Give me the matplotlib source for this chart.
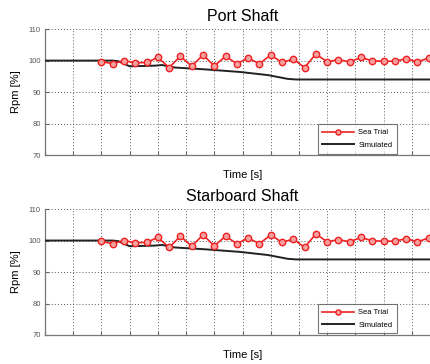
import numpy as np
import matplotlib
matplotlib.use("Agg")
import matplotlib.pyplot as plt

plt.rcParams['font.family'] = ['Liberation Sans', 'DejaVu Sans']

# Sea trial measurements (time in s, shaft speed in % of nominal)
trial_time = [20, 24, 28, 32, 36, 40, 44, 48, 52, 56, 60, 64, 68, 72, 76,
              80, 84, 88, 92, 96, 100, 104, 108, 112, 116, 120, 124, 128, 132, 136]
trial_rpm = [99.7, 99.0, 100.0, 99.3, 99.4, 101.0, 97.8, 101.4, 98.2, 101.8,
             98.3, 101.4, 99.0, 100.8, 99.0, 101.8, 99.4, 100.5, 97.8, 102.1,
             99.6, 100.3, 99.6, 101.0, 99.9, 99.8, 99.8, 100.6, 99.6, 100.8]

# Simulation results
sim_time = [0, 24, 26, 30, 35, 39, 41.5, 46, 57, 69, 79, 86, 89, 140]
sim_rpm = [100.0, 100.0, 99.8, 98.2, 98.3, 98.4, 98.6, 97.8, 97.2, 96.4,
           95.4, 94.2, 94.0, 94.0]

titles = ["Port Shaft", "Starboard Shaft"]
y_ticks = [70, 80, 90, 100, 110]
x_ticks = np.arange(0, 141, 10)

fig = plt.figure(figsize=(4.31, 3.64), dpi=100)
positions = [[0.1044, 0.574, 0.9165, 0.346],
             [0.1044, 0.0797, 0.9165, 0.346]]

for pos, title in zip(positions, titles):
    ax = fig.add_axes(pos)
    ax.plot(sim_time, sim_rpm, color='#222222', lw=1.4, label='Simulated', zorder=3)
    ax.plot(trial_time, trial_rpm, color='#ee2222', lw=1.2, marker='o', ms=4.6,
            mfc='#f6a0a0', mec='#ee2222', mew=1.0, label='Sea Trial', zorder=4)
    ax.set_xlim(0, 140)
    ax.set_ylim(70, 110)
    ax.set_xticks(x_ticks)
    ax.set_yticks(y_ticks)
    ax.set_xticklabels([])
    ax.tick_params(axis='y', labelsize=5.5, labelcolor='#555555', direction='in',
                   length=3, color='#666666', pad=3)
    ax.tick_params(axis='x', direction='in', length=3, color='#666666')
    ax.grid(True, color='#444444', ls=(0, (1.2, 2.5)), lw=0.6)
    for s in ['top', 'right']:
        ax.spines[s].set_visible(False)
    for s in ['left', 'bottom']:
        ax.spines[s].set_color('#777777')
        ax.spines[s].set_linewidth(0.9)
    ax.set_title(title, fontsize=11.5, pad=6)
    ax.set_ylabel('Rpm [%]', fontsize=8, labelpad=5)
    ax.set_xlabel('Time [s]', fontsize=8, labelpad=7)
    handles, labels = ax.get_legend_handles_labels()
    leg = ax.legend(handles[::-1], labels[::-1], loc='lower right',
                    bbox_to_anchor=(0.891, 0.012), fontsize=5.5,
                    frameon=True, fancybox=False, edgecolor='#555555',
                    handlelength=4.2, borderpad=0.6, labelspacing=0.7,
                    handletextpad=0.5, borderaxespad=0, markerscale=0.8)
    leg.get_frame().set_linewidth(0.8)

fig.savefig('out.png', dpi=100)
